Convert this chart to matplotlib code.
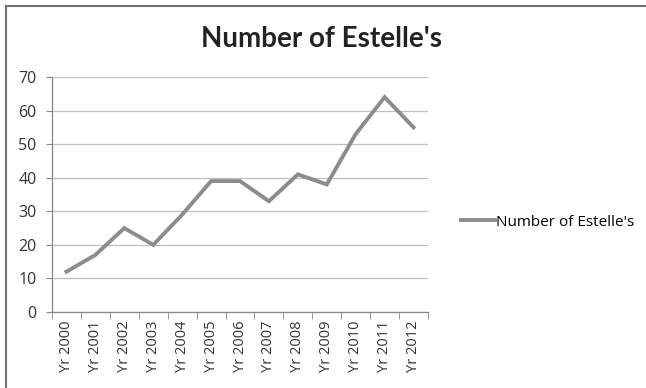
import numpy as np
import matplotlib.pyplot as plt
from matplotlib.lines import Line2D

# ================== DATA ==================

years = ["Yr 2000", "Yr 2001", "Yr 2002", "Yr 2003", "Yr 2004", "Yr 2005", "Yr 2006",
         "Yr 2007", "Yr 2008", "Yr 2009", "Yr 2010", "Yr 2011", "Yr 2012"]
counts = [12, 17, 25, 20, 29, 39, 39, 33, 41, 38, 53, 64, 55]
series_name = "Number of Estelle's"
y_ticks = [0, 10, 20, 30, 40, 50, 60, 70]

# ================== PLOT ==================

plt.rcParams['font.family'] = ['Open Sans', 'DejaVu Sans']

fig = plt.figure(figsize=(6.46, 3.88), dpi=100)
ax = fig.add_axes([52 / 646, 1 - 312 / 388, 376 / 646, 235 / 388])

x = np.arange(len(years))
ax.plot(x, counts, color="#8c8c8c", linewidth=2.8, label=series_name,
        solid_joinstyle="miter", zorder=3)

ax.set_xlim(-0.5, len(years) - 0.5)
ax.set_ylim(0, 70)
ax.set_yticks(y_ticks)
ax.tick_params(axis="y", labelsize=11.5, length=4, color="#868686",
               labelcolor="#333333", pad=7)
ax.set_xticks(x)
ax.set_xticklabels(years, rotation=90, fontsize=10.5, color="#333333")
ax.set_xticks(np.arange(len(years) + 1) - 0.5, minor=True)
ax.tick_params(axis="x", which="major", length=0, pad=6)
ax.tick_params(axis="x", which="minor", length=5, color="#868686")

ax.grid(axis="y", color="#bfbfbf", linewidth=0.9)
ax.set_axisbelow(True)
for side in ["top", "right"]:
    ax.spines[side].set_visible(False)
for side in ["left", "bottom"]:
    ax.spines[side].set_color("#868686")
    ax.spines[side].set_linewidth(0.9)

fig.text(0.497, 0.9, series_name, ha="center", va="center",
         fontsize=20, fontweight="bold", color="#222222", family=["Lato"])

ax.legend(loc="center left", bbox_to_anchor=(455 / 646, 1 - 222 / 388),
          bbox_transform=fig.transFigure, frameon=False, fontsize=11,
          handlelength=2.2, handletextpad=0.1, borderaxespad=0)

# outer chart frame (only top and left edges show in the crop)
fx = 5.5 / 646
fy = 1 - 5.5 / 388
fig.lines.append(Line2D([fx, fx], [0, fy], transform=fig.transFigure,
                        color="#707070", linewidth=1.5))
fig.lines.append(Line2D([fx, 1], [fy, fy], transform=fig.transFigure,
                        color="#707070", linewidth=1.5))

plt.savefig("out.png", dpi=100)
